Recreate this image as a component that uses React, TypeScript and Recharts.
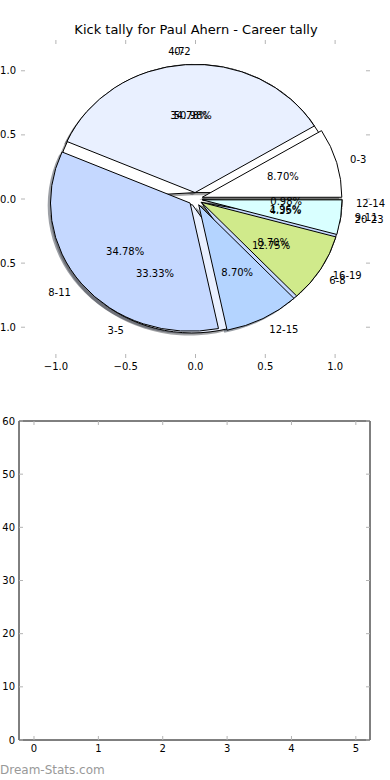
import { ComposedChart, Line, Pie, PieChart, Cell, XAxis, YAxis } from "recharts";

// career kicks by distance band, two binnings drawn on the same axes
const BANDS_OF_4 = ["0-3", "4-7", "8-11", "12-15", "16-19", "20-23"];
const KICKS_OF_4 = [2, 8, 8, 2, 2, 1];
const BANDS_OF_3 = ["0-2", "3-5", "6-8", "9-11", "12-14"];
const KICKS_OF_3 = [52, 34, 13, 2, 1];

const PIE_TICKS = [-1, -0.5, 0, 0.5, 1];
const EMPTY_X_TICKS = [0, 1, 2, 3, 4, 5];
const EMPTY_Y_TICKS = [0, 10, 20, 30, 40, 50, 60];

const WEDGE_COLORS = ["#ffffff", "#e9f0ff", "#c5d8ff", "#b4d4ff", "#d0ea8b", "#d9ffff"];

const FONT = "'DejaVu Sans', sans-serif";
const TICK_GREY = "#b4b4b4";
const SQUASH = 128.2 / 139.6; // the axes are not square, so the pie is an ellipse
const EXPLODE = 0.05;
const RAD = Math.PI / 180;

const pieA = BANDS_OF_4.map((name, i) => ({ name, value: KICKS_OF_4[i] }));
const pieB = BANDS_OF_3.map((name, i) => ({ name, value: KICKS_OF_3[i] }));
const pieAxisRows = PIE_TICKS.map((x) => ({ x }));
const emptyRows = EMPTY_X_TICKS.map((x) => ({ x }));

function wedgePath(cx: number, cy: number, r: number, a0: number, a1: number, sx = 0, sy = 0) {
  const ry = r * SQUASH;
  const mid = ((a0 + a1) / 2) * RAD;
  const ox = cx + EXPLODE * r * Math.cos(mid) + sx;
  const oy = cy - EXPLODE * ry * Math.sin(mid) + sy;
  const x0 = ox + r * Math.cos(a0 * RAD);
  const y0 = oy - ry * Math.sin(a0 * RAD);
  const x1 = ox + r * Math.cos(a1 * RAD);
  const y1 = oy - ry * Math.sin(a1 * RAD);
  const large = a1 - a0 > 180 ? 1 : 0;
  return `M${ox},${oy} L${x0},${y0} A${r},${ry} 0 ${large} 0 ${x1},${y1} Z`;
}

function shade(hex: string) {
  const n = parseInt((hex || "#ffffff").slice(1), 16);
  const c = [(n >> 16) & 255, (n >> 8) & 255, n & 255].map((v) => Math.round(v * 0.3));
  return `rgb(${c[0]},${c[1]},${c[2]})`;
}

const faceShape = (p: any) => (
  <path
    d={wedgePath(p.cx, p.cy, p.outerRadius, p.startAngle, p.endAngle)}
    fill={p.fill}
    stroke="#000"
    strokeWidth={1}
  />
);

const shadowShape = (p: any) => (
  <path
    d={wedgePath(p.cx, p.cy, p.outerRadius, p.startAngle, p.endAngle, -0.02 * p.outerRadius, 0.02 * p.outerRadius * SQUASH)}
    fill={shade(p.fill)}
    fillOpacity={0.5}
    stroke="none"
  />
);

const noShape = () => <g />;

const wedgeLabel = (p: any) => {
  const { cx, cy, midAngle, outerRadius, percent, name } = p;
  const ry = outerRadius * SQUASH;
  const c = Math.cos(midAngle * RAD);
  const s = Math.sin(midAngle * RAD);
  return (
    <g>
      <text
        x={cx + (1.1 + EXPLODE) * outerRadius * c}
        y={cy - (1.1 + EXPLODE) * ry * s}
        textAnchor={c > 0 ? "start" : "end"}
        dominantBaseline="central"
        fontFamily={FONT}
        fontSize={10}
        fill="#000"
      >
        {name}
      </text>
      <text
        x={cx + (0.6 + EXPLODE) * outerRadius * c}
        y={cy - (0.6 + EXPLODE) * ry * s}
        textAnchor="middle"
        dominantBaseline="central"
        fontFamily={FONT}
        fontSize={10}
        fill="#000"
      >
        {(percent * 100).toFixed(2)}%
      </text>
    </g>
  );
};

// tick marks point into the plot, labels sit outside (matplotlib style)
function InTick(props: any) {
  const { x, y, payload, side, fmt, gap = 5 } = props;
  const len = 4;
  let line;
  let label = null;
  const text = fmt ? fmt(payload.value) : null;
  if (side === "bottom") {
    line = <line x1={x} y1={y} x2={x} y2={y - len} stroke={TICK_GREY} />;
    if (text !== null)
      label = (
        <text x={x} y={y + 8} textAnchor="middle" dominantBaseline="central" fontFamily={FONT} fontSize={10} fill="#000">
          {text}
        </text>
      );
  } else if (side === "top") {
    line = <line x1={x} y1={y} x2={x} y2={y + len} stroke={TICK_GREY} />;
  } else if (side === "left") {
    line = <line x1={x} y1={y} x2={x + len} y2={y} stroke={TICK_GREY} />;
    if (text !== null)
      label = (
        <text x={x - gap} y={y} textAnchor="end" dominantBaseline="central" fontFamily={FONT} fontSize={10} fill="#000">
          {text}
        </text>
      );
  } else {
    line = <line x1={x} y1={y} x2={x - len} y2={y} stroke={TICK_GREY} />;
  }
  return (
    <g>
      {line}
      {label}
    </g>
  );
}

const fmtPie = (v: number) => (v < 0 ? "\u2212" : "") + Math.abs(v).toFixed(1);
const fmtInt = (v: number) => String(v);

const axisBase = {
  tickLine: false,
  tickSize: 0,
  tickMargin: 0,
  allowDataOverflow: true,
  interval: 0 as const,
};

function pieLayer(data: any[], key: string, shape: any, withLabel: boolean) {
  return (
    <Pie
      key={key}
      data={data}
      dataKey="value"
      nameKey="name"
      cx={195.5}
      cy={199}
      outerRadius={139.6}
      startAngle={0}
      endAngle={360}
      stroke="none"
      labelLine={false}
      label={withLabel ? wedgeLabel : false}
      shape={shape}
      activeShape={shape}
      inactiveShape={shape}
      isAnimationActive={false}
    >
      {data.map((_, i) => (
        <Cell key={i} fill={WEDGE_COLORS[i]} />
      ))}
    </Pie>
  );
}

export default function App() {
  return (
    <div
      style={{
        position: "absolute",
        left: 0,
        top: 0,
        width: 390,
        height: 780,
        background: "#fff",
        overflow: "hidden",
      }}
    >
      <div
        style={{
          position: "absolute",
          left: 0,
          width: 390,
          top: 22,
          textAlign: "center",
          paddingLeft: 1,
          fontFamily: FONT,
          fontSize: 13,
          lineHeight: "16px",
          color: "#000",
        }}
      >
        Kick tally for Paul Ahern - Career tally
      </div>

      {/* frame-less axes behind the pies */}
      <div style={{ position: "absolute", left: 0, top: 0 }}>
        <ComposedChart width={390} height={390} data={pieAxisRows} margin={{ top: 39, right: 19, bottom: 31, left: 20 }}>
          <XAxis
            {...axisBase}
            xAxisId="b"
            dataKey="x"
            type="number"
            domain={[-1.25, 1.25]}
            ticks={PIE_TICKS}
            height={1}
            axisLine={false}
            tick={<InTick side="bottom" fmt={fmtPie} />}
          />
          <XAxis
            {...axisBase}
            xAxisId="t"
            orientation="top"
            dataKey="x"
            type="number"
            domain={[-1.25, 1.25]}
            ticks={PIE_TICKS}
            height={1}
            axisLine={false}
            tick={<InTick side="top" />}
          />
          <YAxis
            {...axisBase}
            yAxisId="l"
            type="number"
            domain={[-1.24, 1.24]}
            ticks={PIE_TICKS}
            width={1}
            axisLine={false}
            tick={<InTick side="left" fmt={fmtPie} gap={5} />}
          />
          <YAxis
            {...axisBase}
            yAxisId="r"
            orientation="right"
            type="number"
            domain={[-1.24, 1.24]}
            ticks={PIE_TICKS}
            width={1}
            axisLine={false}
            tick={<InTick side="right" />}
          />
          <Line xAxisId="b" yAxisId="l" dataKey="y" stroke="none" dot={false} isAnimationActive={false} />
        </ComposedChart>
      </div>

      <div style={{ position: "absolute", left: 0, top: 0 }}>
        <PieChart width={390} height={390} margin={{ top: 0, right: 0, bottom: 0, left: 0 }}>
          {pieLayer(pieB, "shadowB", shadowShape, false)}
          {pieLayer(pieA, "shadowA", shadowShape, false)}
          {pieLayer(pieB, "faceB", faceShape, false)}
          {pieLayer(pieA, "faceA", faceShape, false)}
          {pieLayer(pieB, "labelB", noShape, true)}
          {pieLayer(pieA, "labelA", noShape, true)}
        </PieChart>
      </div>

      {/* second, empty panel */}
      <div style={{ position: "absolute", left: 0, top: 390 }}>
        <ComposedChart width={390} height={390} data={emptyRows} margin={{ top: 30, right: 19, bottom: 39, left: 18 }}>
          <XAxis
            {...axisBase}
            xAxisId="b"
            dataKey="x"
            type="number"
            domain={[-0.233, 5.22]}
            ticks={EMPTY_X_TICKS}
            height={1}
            axisLine={{ stroke: "#000" }}
            tick={<InTick side="bottom" fmt={fmtInt} />}
          />
          <XAxis
            {...axisBase}
            xAxisId="t"
            orientation="top"
            dataKey="x"
            type="number"
            domain={[-0.233, 5.22]}
            ticks={EMPTY_X_TICKS}
            height={1}
            axisLine={{ stroke: "#000" }}
            tick={<InTick side="top" />}
          />
          <YAxis
            {...axisBase}
            yAxisId="l"
            type="number"
            domain={[0, 60]}
            ticks={EMPTY_Y_TICKS}
            width={1}
            axisLine={{ stroke: "#000" }}
            tick={<InTick side="left" fmt={fmtInt} gap={4} />}
          />
          <YAxis
            {...axisBase}
            yAxisId="r"
            orientation="right"
            type="number"
            domain={[0, 60]}
            ticks={EMPTY_Y_TICKS}
            width={1}
            axisLine={{ stroke: "#000" }}
            tick={<InTick side="right" />}
          />
          <Line xAxisId="b" yAxisId="l" dataKey="y" stroke="none" dot={false} isAnimationActive={false} />
        </ComposedChart>
      </div>

      <div
        style={{
          position: "absolute",
          left: 0,
          top: 762,
          fontFamily: FONT,
          fontSize: 12,
          lineHeight: "16px",
          color: "#999",
        }}
      >
        Dream-Stats.com
      </div>
    </div>
  );
}
